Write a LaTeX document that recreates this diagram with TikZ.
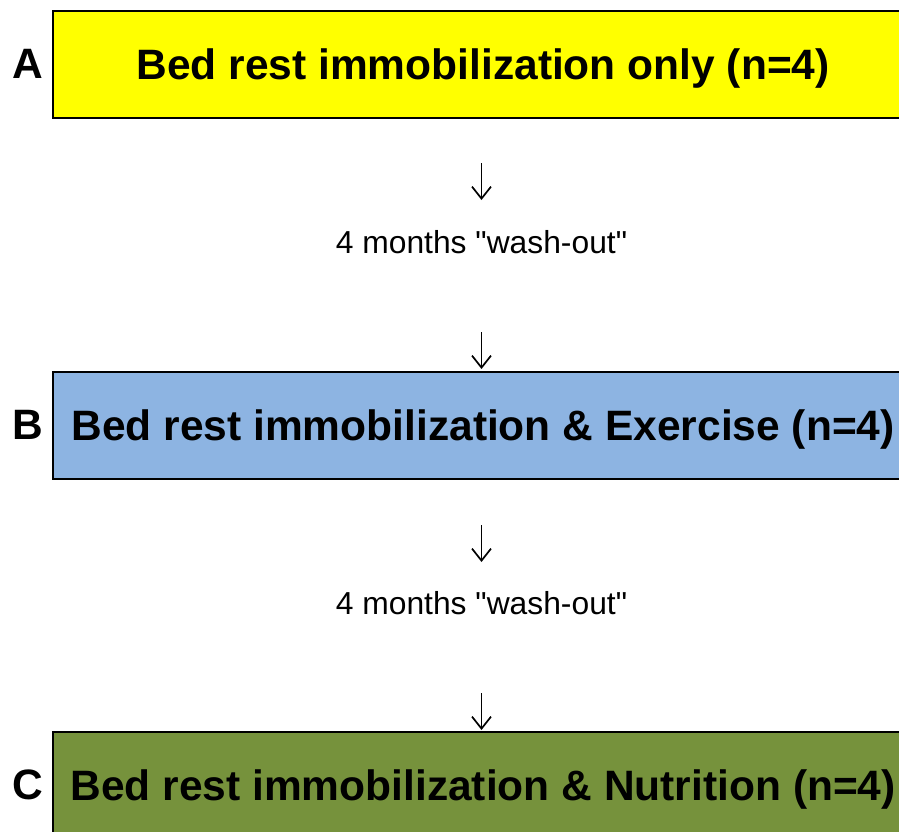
\documentclass[tikz,border=0pt]{standalone}
\usepackage{fontspec}
\setmainfont{Liberation Sans}[Ligatures=TeXOff]
\usetikzlibrary{arrows.meta}
\definecolor{fillA}{HTML}{FFFF00}
\definecolor{fillB}{HTML}{8DB4E2}
\definecolor{fillC}{HTML}{76923C}
\begin{document}
\begin{tikzpicture}[x=1pt,y=-1pt,
  stage/.style={draw=black,line width=2.2pt,inner sep=0pt,minimum height=107pt,minimum width=860pt,
    anchor=north west,font=\fontsize{42.5}{50}\selectfont\bfseries,text height=30.4pt,text depth=0pt},
  tag/.style={inner sep=0pt,font=\fontsize{42.5}{50}\selectfont\bfseries,text height=30.4pt,text depth=0pt},
  gap/.style={inner sep=0pt,anchor=base,font=\fontsize{31.8}{36}\selectfont},
  flow/.style={line width=1.7pt,-{Straight Barb[length=12pt,width=19pt,line width=1.7pt]}}]
\useasboundingbox (0,0) rectangle (899,832);
\clip (0,0) rectangle (899,832);
\node[stage,fill=fillA] (boxA) at (52,10) {Bed rest immobilization only (n=4)};
\node[stage,fill=fillB] (boxB) at (52,371) {Bed rest immobilization \& Exercise (n=4)};
\node[stage,fill=fillC] (boxC) at (52,731) {Bed rest immobilization \& Nutrition (n=4)};
\node[tag] (tagA) at (27.5,63.5) {A};
\node[tag] (tagB) at (27.5,424.5) {B};
\node[tag] (tagC) at (27.5,784.5) {C};
\node[gap] (wash1) at (481.5,253) {4 months "wash-out"};
\node[gap] (wash2) at (481.5,614) {4 months "wash-out"};
\coordinate (a1s) at (481.5,163);
\coordinate (a1e) at (481.5,200);
\coordinate (a2s) at (481.5,332);
\coordinate (a2e) at (481.5,369);
\coordinate (a3s) at (481.5,525);
\coordinate (a3e) at (481.5,562);
\coordinate (a4s) at (481.5,693);
\coordinate (a4e) at (481.5,730);
\draw[flow] (a1s) -- (a1e);
\draw[flow] (a2s) -- (a2e);
\draw[flow] (a3s) -- (a3e);
\draw[flow] (a4s) -- (a4e);
\end{tikzpicture}
\end{document}
